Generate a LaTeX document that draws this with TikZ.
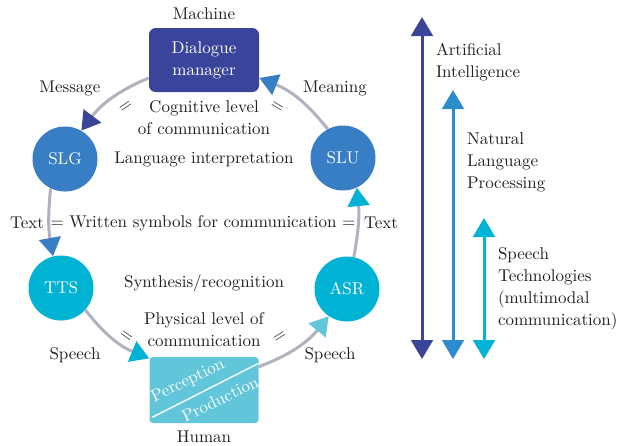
\documentclass[tikz,border=0pt]{standalone}
\usepackage{tikz}
\usetikzlibrary{arrows.meta,positioning}
\definecolor{dmBlue}{RGB}{59,68,155}
\definecolor{slBlue}{RGB}{56,126,196}
\definecolor{spCyan}{RGB}{0,178,212}
\definecolor{huCyan}{RGB}{98,198,218}
\definecolor{nlpBlue}{RGB}{45,140,205}
\definecolor{flowGray}{RGB}{176,178,192}
\definecolor{txtGray}{RGB}{35,31,32}
\tikzset{
  lbl/.style={font=\fontsize{10.2}{13.2}\selectfont, text=txtGray, inner sep=1pt},
  unit/.style={circle, minimum size=39pt, inner sep=0pt, text=white,
    font=\fontsize{10.2}{13.2}\selectfont},
  box/.style={rectangle, rounded corners=4pt, inner sep=0pt, text=white, align=center,
    font=\fontsize{10.2}{13.2}\selectfont},
  flow/.style={flowGray, line width=1.8pt},
  headto/.style={-{Triangle[length=11pt,width=13pt,color=#1]}},
  scalearrow/.style={line width=1.8pt, color=#1,
    {Triangle[length=11.4pt,width=13pt]}-{Triangle[length=11.4pt,width=13pt]}}
}

\begin{document}
\begin{tikzpicture}[x=0.6pt,y=-0.6pt]
    \useasboundingbox (0,0) rectangle (633,445);

    % machine and human
    \node[box, fill=dmBlue, minimum width=66pt, minimum height=38.4pt] (dm) at (204,60) {Dialogue\\manager};
    \node[lbl] (machine) at (204,14) {Machine};
    \node[box, fill=huCyan, rounded corners=2pt, minimum width=65.4pt, minimum height=39.6pt] (human) at (204,390) {};
    \node[lbl] (humanlbl) at (204,437) {Human};
    \draw[white, line width=0.8pt] ([shift={(3,-6)}]human.south west) -- ([shift={(-1,7)}]human.north east);
    \node[lbl, text=white, rotate=26, inner sep=0pt] (percep) at (188,381) {Perception};
    \node[lbl, text=white, rotate=26, inner sep=0pt] (produc) at (220,399) {Production};

    % modules
    \node[unit, fill=slBlue] (slg) at (65,159) {SLG};
    \node[unit, fill=slBlue] (slu) at (343,158) {SLU};
    \node[unit, fill=spCyan] (tts) at (61,288) {TTS};
    \node[unit, fill=spCyan] (asr) at (347,289) {ASR};

    % the loop
    \draw[flow, headto=dmBlue] (dm.198) to[bend right=15] (slg.60);
    \draw[flow, headto=slBlue] (slg.244) to[bend right=8] (tts.104);
    \draw[flow, headto=spCyan] (tts.318) to[bend right=15] (human.150);
    \draw[flow, headto=huCyan] (human.23) to[bend right=15] (asr.236);
    \draw[flow, headto=spCyan] (asr.78) to[bend right=8] (slu.-65);
    \draw[flow, headto=slBlue] (slu.118) to[bend right=15] (dm.-18);

    % labels on the loop
    \node[lbl] (msg) at (70,88) {Message};
    \node[lbl] (mean) at (335,88) {Meaning};
    \node[lbl] (textl) at (27,223) {Text};
    \node[lbl] (textr) at (381,223) {Text};
    \node[lbl] (speechl) at (75,355) {Speech};
    \node[lbl] (speechr) at (330,355) {Speech};

    % levels inside
    \node[lbl, align=center] (cogn) at (204,118) {Cognitive level\\of communication};
    \node[lbl] (interp) at (204,159) {Language interpretation};
    \node[lbl] (written) at (203,223) {= Written symbols for communication =};
    \node[lbl] (synth) at (204,283) {Synthesis/recognition};
    \node[lbl, align=center] (phys) at (204,329.5) {Physical level of\\communication};
    \node[lbl, rotate=35] (eqa) at (126,107) {=};
    \node[lbl, rotate=-31] (eqb) at (277,107) {=};
    \node[lbl, rotate=-35] (eqc) at (126,337) {=};
    \node[lbl, rotate=32] (eqd) at (280,337) {=};

    % fields on the right
    \coordinate (aiTop) at (422,17);
    \coordinate (aiBot) at (422,359);
    \coordinate (nlpTop) at (453,90);
    \coordinate (nlpBot) at (453,359);
    \coordinate (stTop) at (484,218);
    \coordinate (stBot) at (484,359);
    \draw[scalearrow=dmBlue] (aiBot) -- (aiTop);
    \draw[scalearrow=nlpBlue] (nlpBot) -- (nlpTop);
    \draw[scalearrow=spCyan] (stBot) -- (stTop);
    \node[lbl, anchor=west, align=left] (ai) at (434,62) {Artificial\\Intelligence};
    \node[lbl, anchor=west, align=left] (nlp) at (465,162) {Natural\\Language\\Processing};
    \node[lbl, anchor=west, align=left] (st) at (496,288.5) {Speech\\Technologies\\(multimodal\\communication)};

\end{tikzpicture}
\end{document}
